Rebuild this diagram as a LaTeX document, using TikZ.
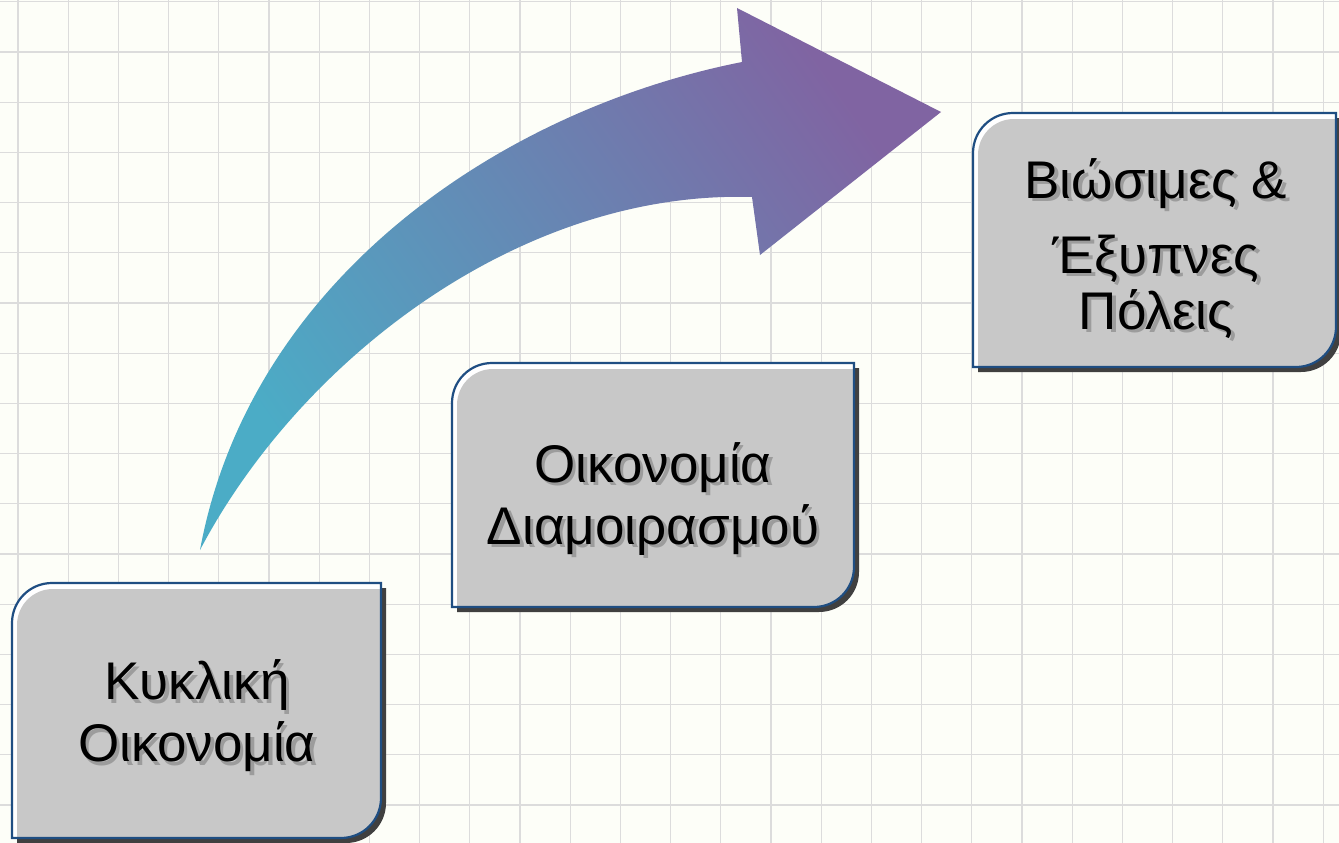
\documentclass[tikz,border=0pt]{standalone}
\usepackage{fontspec}
\setmainfont{Liberation Sans}
\definecolor{bg}{HTML}{FDFEF8}
\definecolor{gridc}{HTML}{DCDCDC}
\definecolor{boxblue}{HTML}{1F4E82}
\definecolor{boxgray}{HTML}{C8C8C8}
\definecolor{shadowc}{HTML}{404040}
\definecolor{txtshadow}{HTML}{9C9C9C}
\definecolor{arrteal}{HTML}{4BACC6}
\definecolor{arrpurple}{HTML}{8064A2}
% x1 y1 x2 y2 r-topleft r-bottomright
\newcommand{\boxshape}[6]{(#1,#2+#5) arc[start angle=180,end angle=270,radius=#5] -- (#3,#2) -- (#3,#4-#6) arc[start angle=0,end angle=90,radius=#6] -- (#1,#4) -- cycle}
\newcommand{\stagebox}[4]{%
  \fill[shadowc] \boxshape{#1+5}{#2+5}{#3+5}{#4+5}{40}{40};
  \fill[white] \boxshape{#1}{#2}{#3}{#4}{40}{40};
  \fill[boxgray] \boxshape{#1+5}{#2+6}{#3}{#4}{36}{40};
  \draw[boxblue, line width=2.2pt] \boxshape{#1}{#2}{#3}{#4}{40}{40};
}
\tikzset{
  boxtext/.style={align=center, inner sep=0pt, font=\fontsize{53}{62}\selectfont, text=black},
  boxshadowtext/.style={boxtext, text=txtshadow}
}
\begin{document}
\begin{tikzpicture}[x=1pt,y=-1pt]
\fill[bg] (0,0) rectangle (1339,843);
\useasboundingbox (0,0) rectangle (1339,843);
\foreach \k in {0,...,26} \draw[gridc, line width=1.2pt] ({18+50.2*\k},0) -- ({18+50.2*\k},843);
\foreach \k in {0,...,16} \draw[gridc, line width=1.2pt] (0,{1.8+50.2*\k}) -- (1339,{1.8+50.2*\k});

% curved arrow
\shade[top color=arrpurple, bottom color=arrteal, shading angle=-55]
  (200,550) .. controls (250,280) and (500,110) .. (742,62)
  -- (737,8) -- (941,112) -- (760,255) -- (752,197)
  .. controls (520,190) and (300,360) .. (200,550) -- cycle;

% boxes
\stagebox{12}{583}{381}{838}
\stagebox{452}{363}{854}{607}
\stagebox{973}{113}{1336}{367}

% texts
\node[boxshadowtext] (t1s) at (200.5,719.5) {Κυκλική\\Οικονομία};
\node[boxtext] (t1) at (197,716) {Κυκλική\\Οικονομία};
\node[boxshadowtext] (t2s) at (656.5,502.5) {Οικονομία\\Διαμοιρασμού};
\node[boxtext] (t2) at (653,499) {Οικονομία\\Διαμοιρασμού};
\node[boxshadowtext] (t3s) at (1159.5,252) {Βιώσιμες \&\\[13pt]Έξυπνες\\[-6pt]Πόλεις};
\node[boxtext] (t3) at (1156,248.5) {Βιώσιμες \&\\[13pt]Έξυπνες\\[-6pt]Πόλεις};
\end{tikzpicture}
\end{document}
